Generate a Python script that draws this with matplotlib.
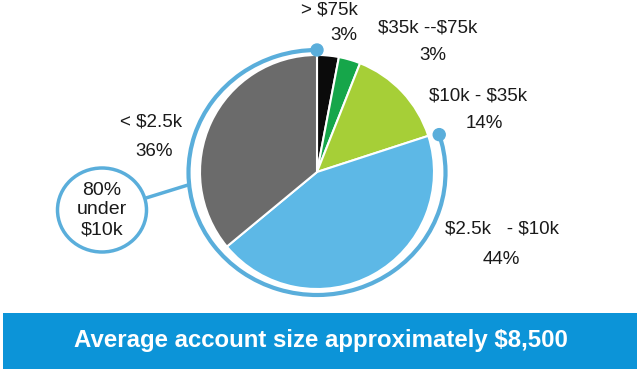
import matplotlib
matplotlib.use('Agg')
import numpy as np
import matplotlib.pyplot as plt
from matplotlib.patches import Arc, Ellipse, Rectangle

plt.rcParams['font.family'] = ['Liberation Sans', 'DejaVu Sans']

# data
bands = ['> $75k', '$35k --$75k', '$10k - $35k', '$2.5k   - $10k', '< $2.5k']
shares = [3, 3, 14, 44, 36]
colors = ['#0b0b0b', '#16a64a', '#a6cf37', '#5db8e6', '#6b6b6b']
callout = '80%\nunder\n$10k'
banner = 'Average account size approximately $8,500'

W, H = 640, 372
def Y(y):
    # picture rows (top down) -> axes y (bottom up)
    return H - y

fig = plt.figure(figsize=(6.4, 3.72), dpi=100)
ax = fig.add_axes([0, 0, 1, 1])

cx, cy, r = 317, Y(172), 117
ax.pie(shares, colors=colors, startangle=90, counterclock=False,
       center=(cx, cy), radius=r,
       wedgeprops=dict(edgecolor='white', linewidth=1.5))
ax.set_xlim(0, W)
ax.set_ylim(0, H)
ax.set_aspect('auto')
ax.axis('off')

# ring round the two bottom bands (< $10k)
ring_c = '#5aaedb'
under = shares[3] + shares[4]
t_end = 90 + 360 * under / sum(shares)
ax.add_patch(Arc((cx, Y(172.5)), 257, 245, theta1=90, theta2=t_end,
                 color=ring_c, lw=3))
for t in (90, t_end):
    a = np.radians(t)
    ax.add_patch(Ellipse((cx + 128.5 * np.cos(a), Y(172.5) + 122.5 * np.sin(a)),
                         12, 12, color=ring_c, zorder=5))

# callout bubble
ax.plot([146, 188], [Y(198), Y(185)], color=ring_c, lw=2.5, solid_capstyle='butt')
ax.add_patch(Ellipse((102, Y(210)), 89, 84, facecolor='white',
                     edgecolor=ring_c, lw=2.5, zorder=4))
ax.text(102, Y(210), callout, ha='center', va='center', fontsize=14,
        color='#1a1a1a', linespacing=1.2, zorder=6, parse_math=False)

# band labels
label_pos = [(329, 10), (428, 28), (478, 96), (502, 229), (151, 122)]
pct_pos = [(344, 36), (433, 56), (484, 124), (501, 259), (154, 151)]
for name, s, (lx, ly), (px, py) in zip(bands, shares, label_pos, pct_pos):
    ax.text(lx, Y(ly), name, ha='center', va='center', fontsize=13.5,
            color='#1a1a1a', parse_math=False)
    ax.text(px, Y(py), f'{s}%', ha='center', va='center', fontsize=13.5,
            color='#1a1a1a', parse_math=False)

# banner
ax.add_patch(Rectangle((3, Y(369)), 634, 56, facecolor='#0c94d8', edgecolor='none'))
ax.text(321, Y(341), banner, ha='center', va='center', fontsize=17.3,
        fontweight='bold', color='white', parse_math=False)

fig.savefig('out.png', dpi=100)
